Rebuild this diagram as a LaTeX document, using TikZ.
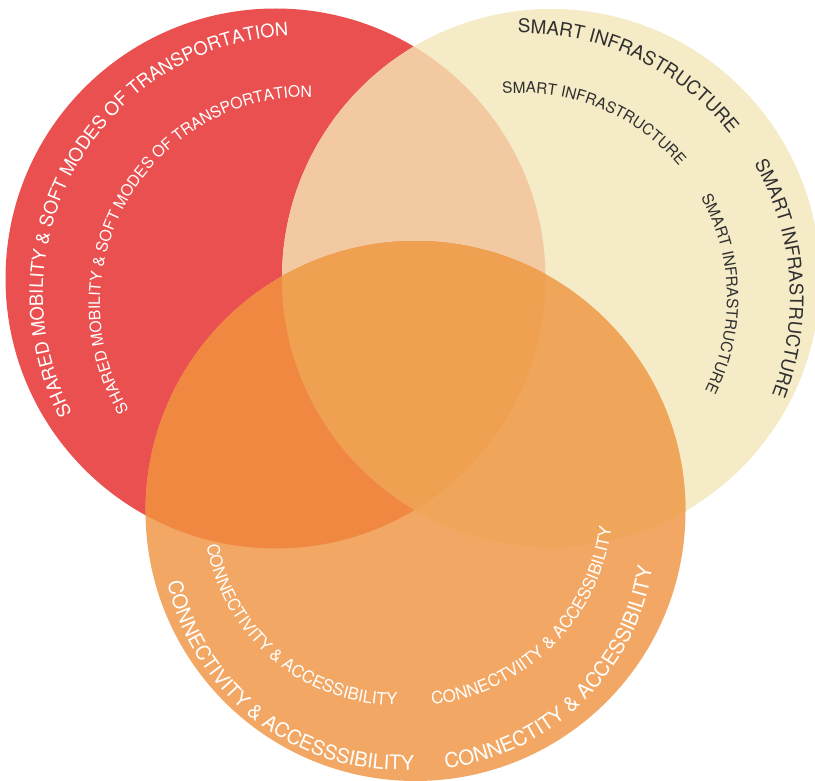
\documentclass[tikz,border=0pt]{standalone}
\usepackage{fontspec}
\setmainfont{TeX Gyre Heros}
\usetikzlibrary{decorations.text}
\definecolor{cred}{HTML}{EA5050}
\definecolor{cyel}{HTML}{F5EBC6}
\definecolor{cry}{HTML}{F3C9A2}
\definecolor{cor}{HTML}{F2A864}
\definecolor{cro}{HTML}{F08842}
\definecolor{cyo}{HTML}{F0A65A}
\definecolor{call}{HTML}{EFA050}
\definecolor{ctxt}{HTML}{2F2F2F}
\tikzset{
  arclabel/.style n args={3}{decorate, decoration={text along path,
    text={|\fontsize{#1}{#1}\selectfont|#3}, text color=#2}},
}
\begin{document}
\begin{tikzpicture}[x=1pt,y=-1pt]
\useasboundingbox (0,0) rectangle (815,781);
\clip (0,0) rectangle (815,781);
\coordinate (R) at (275.5,278.5);
\coordinate (Y) at (551,278);
\coordinate (O) at (415.5,511);
\def\rR{270}\def\rY{269}\def\rO{270}
% circles and overlaps
\fill[cred] (R) circle[radius=\rR];
\fill[cyel] (Y) circle[radius=\rY];
\begin{scope}\clip (R) circle[radius=\rR]; \fill[cry] (Y) circle[radius=\rY];\end{scope}
\fill[cor] (O) circle[radius=\rO];
\begin{scope}\clip (R) circle[radius=\rR]; \fill[cro] (O) circle[radius=\rO];\end{scope}
\begin{scope}\clip (Y) circle[radius=\rY]; \fill[cyo] (O) circle[radius=\rO];\end{scope}
\begin{scope}\clip (R) circle[radius=\rR]; \clip (Y) circle[radius=\rY]; \fill[call] (O) circle[radius=\rO];\end{scope}
% red texts
\coordinate (rt1) at (302,294);
\coordinate (rt2) at (307,304);
\path[arclabel={18.4}{white}{SHARED MOBILITY {\&} SOFT MODES OF TRANSPORTATION}]
  (rt1) ++(-207.4:259) arc[start angle=-207.4, end angle=-75, radius=259];
\path[arclabel={15.7}{white}{SHARED MOBILITY {\&} SOFT MODES OF TRANSPORTATION}]
  (rt2) ++(-210.8:207) arc[start angle=-210.8, end angle=-70, radius=207];
% yellow texts
\coordinate (yt) at (522,298);
\path[arclabel={18.8}{ctxt}{SMART INFRASTRUCTURE}]
  (yt) ++(-90.9:265) arc[start angle=-90.9, end angle=-25, radius=265];
\path[arclabel={18.5}{ctxt}{SMART INFRASTRUCTURE}]
  (yt) ++(-30:268) arc[start angle=-30, end angle=40, radius=268];
\path[arclabel={15.3}{ctxt}{SMART INFRASTRUCTURE}]
  (yt) ++(-95.4:205) arc[start angle=-95.4, end angle=-25, radius=205];
\path[arclabel={15.5}{ctxt}{SMART INFRASTRUCTURE}]
  (yt) ++(-29.3:205) arc[start angle=-29.3, end angle=45, radius=205];
% orange texts
\coordinate (ot1) at (400,532);
\coordinate (ot2) at (417,532);
\coordinate (ot3) at (396,513);
\coordinate (ot4) at (409,502);
\path[arclabel={20.1}{white}{CONNECTIVITY {\&} ACCESSSIBILITY}]
  (ot1) ++(-192.3:238) arc[start angle=-192.3, end angle=-295, radius=238];
\path[arclabel={20.4}{white}{CONNECTITY {\&} ACCESSIBILITY}]
  (ot2) ++(-276.9:238) arc[start angle=-276.9, end angle=-375, radius=238];
\path[arclabel={16.8}{white}{CONNECTIVITY {\&} ACCESSIBILITY}]
  (ot3) ++(-189.6:192) arc[start angle=-189.6, end angle=-295, radius=192];
\path[arclabel={16.9}{white}{CONNECTVIITY {\&} ACCESSIBILITY}]
  (ot4) ++(-276.5:204) arc[start angle=-276.5, end angle=-375, radius=204];
\end{tikzpicture}
\end{document}
